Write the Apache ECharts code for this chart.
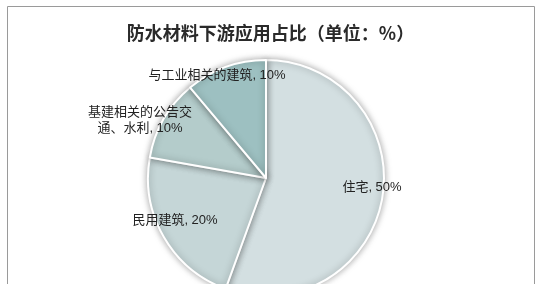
<!DOCTYPE html>
<html>
<head>
<meta charset="utf-8">
<script src="https://cdn.jsdelivr.net/npm/echarts@6/dist/echarts.min.js"></script>
<style>
	html, body { margin: 0; padding: 0; background: #fff; }
	#main { width: 541px; height: 284px; }
</style>
</head>
<body>
<div id="main"></div>
<script>
// 防水材料下游应用占比（单位：%）
var categories = ['住宅', '民用建筑', '基建相关的公告交通、水利', '与工业相关的建筑'];
var values = [50, 20, 10, 10];
var colors = ['#d3dfe1', '#c5d6d7', '#b4cccb', '#9dc0c1'];

var data = new Array();
for (var i = 0; i < categories.length; i++) {
	data[i] = {
		name: categories[i],
		value: values[i],
		itemStyle: { color: colors[i] }
	};
}

// label centres
var labelPos = [[372, 187], [175, 220], [140, 120], [217, 75]];

var myChart = echarts.init(document.getElementById('main'));
var option = {
	animation: false,
	title: {
		text: '防水材料下游应用占比（单位：%）',
		left: 'center',
		top: 19,
		textStyle: {
			fontFamily: 'Noto Sans CJK SC',
			fontWeight: 'bold',
			fontSize: 18,
			color: '#2a2a2a'
		}
	},
	graphic: [{
		type: 'rect',
		silent: true,
		shape: { x: 7.5, y: 6.5, width: 527, height: 290 },
		style: { fill: 'none', stroke: '#9a9a9a', lineWidth: 1 }
	}],
	series: [{
		type: 'pie',
		center: [266, 178],
		radius: 118,
		startAngle: 90,
		clockwise: true,
		silent: true,
		data: data,
		itemStyle: {
			borderColor: '#ffffff',
			borderWidth: 2,
			shadowBlur: 7,
			shadowColor: 'rgba(0,0,0,0.35)'
		},
		label: {
			show: true,
			position: 'inside',
			fontFamily: '"Liberation Sans", "Noto Sans CJK SC"',
			fontSize: 13,
			lineHeight: 16,
			color: '#222222',
			align: 'center',
			formatter: function (p) {
				var n = p.name;
				if (n.length > 8) {
					n = n.slice(0, 8) + '\n' + n.slice(8);
				}
				return n + ', ' + p.value + '%';
			}
		},
		labelLine: { show: false },
		labelLayout: function (params) {
			var pos = labelPos[params.dataIndex];
			return {
				x: pos[0],
				y: pos[1],
				align: 'center',
				verticalAlign: 'middle'
			};
		}
	}]
};
myChart.setOption(option);
</script>
</body>
</html>
